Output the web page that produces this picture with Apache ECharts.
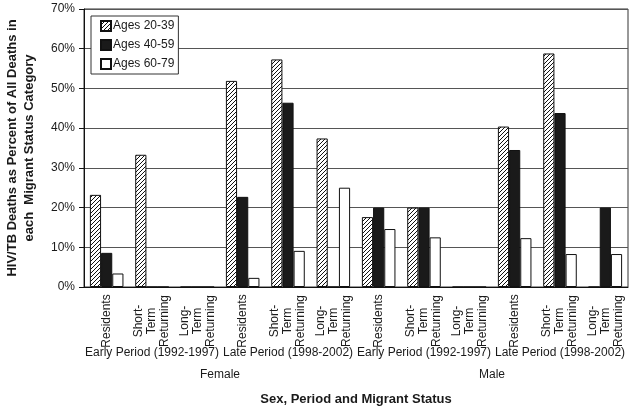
<!DOCTYPE html>
<html>
<head>
<meta charset="utf-8">
<script src="https://cdn.jsdelivr.net/npm/echarts@6/dist/echarts.min.js"></script>
<style>
html,body{margin:0;padding:0;background:#fff;}
#chart{width:633px;height:411px;}
</style>
</head>
<body>
<div id="chart"></div>
<script>
// ---- data ----
var statusCategories = ['Residents', 'Short-\nTerm\nReturning', 'Long-\nTerm\nReturning',
                        'Residents', 'Short-\nTerm\nReturning', 'Long-\nTerm\nReturning',
                        'Residents', 'Short-\nTerm\nReturning', 'Long-\nTerm\nReturning',
                        'Residents', 'Short-\nTerm\nReturning', 'Long-\nTerm\nReturning'];
var periodCategories = ['Early Period (1992-1997)', 'Late Period (1998-2002)',
                        'Early Period (1992-1997)', 'Late Period (1998-2002)'];
var sexCategories = ['Female', 'Male'];
var seriesNames = ['Ages 20-39', 'Ages 40-59', 'Ages 60-79'];
var ages20_39 = [23.2, 33.3, 0, 51.9, 57.3, 37.4, 17.6, 20, 0, 40.4, 58.8, 0];
var ages40_59 = [8.6, 0, 0, 22.7, 46.4, 0, 20, 20, 0, 34.5, 43.8, 20];
var ages60_79 = [3.4, 0, 0, 2.3, 9.1, 25, 14.6, 12.5, 0, 12.3, 8.3, 8.3];
var yTicks = [0, 10, 20, 30, 40, 50, 60, 70];

// hatch pattern
var tile = document.createElement('canvas');
tile.width = 4; tile.height = 4;
var ctx = tile.getContext('2d');
ctx.fillStyle = '#fff'; ctx.fillRect(0, 0, 4, 4);
ctx.strokeStyle = '#111'; ctx.lineWidth = 1;
ctx.beginPath();
ctx.moveTo(-1, 5); ctx.lineTo(5, -1);
ctx.moveTo(-1, 1); ctx.lineTo(1, -1);
ctx.moveTo(3, 5); ctx.lineTo(5, 3);
ctx.stroke();

var font = 'Liberation Sans, Arial, sans-serif';
var txt = '#1a1a1a';
var chart = echarts.init(document.getElementById('chart'), null, {renderer: 'canvas'});

function barSeries(name, data, color) {
  return {
    name: name, type: 'bar', data: data, xAxisIndex: 0,
    barGap: '0%', barCategoryGap: '26%',
    itemStyle: {color: color, borderColor: '#111', borderWidth: 1},
    emphasis: {disabled: true}
  };
}

chart.setOption({
  animation: false,
  backgroundColor: '#fff',
  grid: {left: 84, right: 5, top: 9, bottom: 124, show: true, borderColor: '#333', borderWidth: 1, backgroundColor: 'transparent'},
  legend: {
    orient: 'vertical', left: 91, top: 16,
    padding: [4, 4, 4, 9], itemGap: 7, itemWidth: 10, itemHeight: 10,
    backgroundColor: '#fff', borderColor: '#333', borderWidth: 1,
    textStyle: {fontFamily: font, fontSize: 12, color: txt, padding: [0, 0, 0, -3]},
    data: seriesNames.map(function (n) { return {name: n, icon: 'rect'}; })
  },
  xAxis: [
    {
      type: 'category', data: statusCategories, position: 'bottom',
      axisLine: {lineStyle: {color: '#111'}},
      axisTick: {length: 58, lineStyle: {color: '#111'}},
      axisLabel: {interval: 0, rotate: 90, align: 'center', verticalAlign: 'middle', margin: 34,
        fontFamily: font, fontSize: 12, color: txt, lineHeight: 13}
    },
    {
      type: 'category', data: periodCategories, position: 'bottom',
      axisLine: {show: false},
      axisTick: {length: 81, interval: 0, lineStyle: {color: '#111'}},
      axisLabel: {interval: 0, margin: 60, fontFamily: font, fontSize: 12, color: txt}
    },
    {
      type: 'category', data: sexCategories, position: 'bottom',
      axisLine: {show: false},
      axisTick: {length: 105, interval: 0, lineStyle: {color: '#111'}},
      axisLabel: {interval: 0, margin: 82, fontFamily: font, fontSize: 12, color: txt}
    }
  ],
  yAxis: {
    type: 'value', min: yTicks[0], max: yTicks[yTicks.length - 1], interval: 10,
    axisLine: {show: true, lineStyle: {color: '#111'}},
    axisTick: {show: true, length: 5, lineStyle: {color: '#111'}},
    axisLabel: {formatter: '{value}%', margin: 9, fontFamily: font, fontSize: 12, color: txt},
    splitLine: {lineStyle: {color: '#555', width: 1}}
  },
  series: [
    barSeries(seriesNames[0], ages20_39, {image: tile, repeat: 'repeat'}),
    barSeries(seriesNames[1], ages40_59, '#1a1a1a'),
    barSeries(seriesNames[2], ages60_79, '#fff')
  ],
  graphic: [
    {
      type: 'text', x: 21, y: 148, rotation: Math.PI / 2,
      style: {text: 'HIV/TB Deaths as Percent of All Deaths in\neach  Migrant Status Category',
        font: 'bold 13px ' + font, fill: txt, align: 'center', verticalAlign: 'middle', lineHeight: 17}
    },
    {
      type: 'text', x: 356, y: 399,
      style: {text: 'Sex, Period and Migrant Status', font: 'bold 13px ' + font, fill: txt,
        align: 'center', verticalAlign: 'middle'}
    }
  ]
});
</script>
</body>
</html>
